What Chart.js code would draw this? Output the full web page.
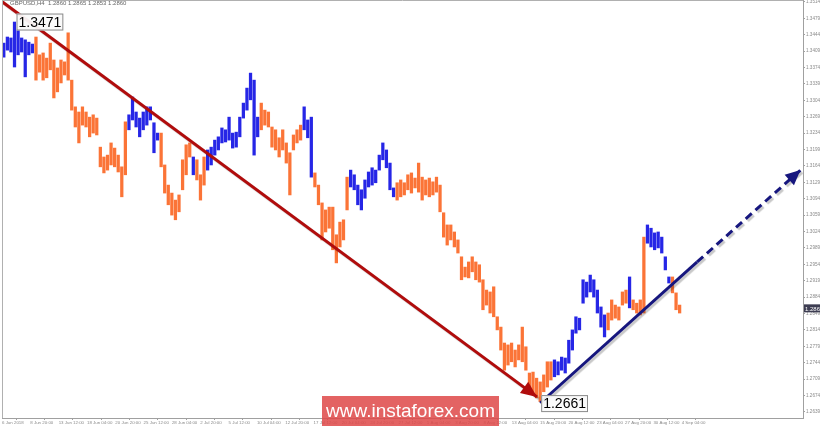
<!DOCTYPE html>
<html lang="en">
<head>
<meta charset="UTF-8">
<title>GBPUSD H4</title>
<script src="https://cdn.jsdelivr.net/npm/chart.js"></script>
<style>
  html, body { margin: 0; padding: 0; background: #fff; }
  .wrap { position: relative; width: 820px; height: 426px; overflow: hidden; }
  #priceChart { display: block; }
  .header { position: absolute; left: 10px; top: 0px; font: 6px "Liberation Sans", Arial, sans-serif; color: #666; white-space: pre; }
  .brand { position: absolute; left: 322px; top: 396px; width: 177px; height: 30px; background: rgba(222, 72, 72, 0.85);
           color: #fff; font: 19px "Liberation Sans", Arial, sans-serif; line-height: 30px; text-align: center; }
</style>
</head>
<body>
<div class="wrap">
  <canvas id="priceChart" width="820" height="426"></canvas>
  <div class="header">GBPUSD,H4  1.2860 1.2865 1.2853 1.2860</div>
  <div class="brand">www.instaforex.com</div>
</div>
<script>
// GBPUSD H4, one bar = two H4 candles (high / low)
const highs = [
  1.3426, 1.3439, 1.3437, 1.3471, 1.3454, 1.3437, 1.3433, 1.3428, 1.3424, 1.3439,
  1.3401, 1.3405, 1.3394, 1.3426, 1.3390, 1.3373, 1.3390, 1.3386, 1.3448, 1.3347,
  1.3290, 1.3279, 1.3290, 1.3279, 1.3268, 1.3273, 1.3266, 1.3204, 1.3183, 1.3187,
  1.3213, 1.3202, 1.3187, 1.3162, 1.3258, 1.3273, 1.3311, 1.3279, 1.3266, 1.3279,
  1.3290, 1.3290, 1.3256, 1.3234, 1.3234, 1.3166, 1.3123, 1.3106, 1.3091, 1.3102,
  1.3177, 1.3209, 1.3213, 1.3183, 1.3177, 1.3145, 1.3183, 1.3198, 1.3204, 1.3219,
  1.3226, 1.3245, 1.3241, 1.3268, 1.3234, 1.3236, 1.3268, 1.3298, 1.3330, 1.3362,
  1.3347, 1.3268, 1.3298, 1.3283, 1.3279, 1.3247, 1.3241, 1.3224, 1.3241, 1.3213,
  1.3192, 1.3230, 1.3241, 1.3251, 1.3290, 1.3262, 1.3268, 1.3149, 1.3123, 1.3085,
  1.3070, 1.3076, 1.3076, 1.3017, 1.3044, 1.3049, 1.3140, 1.3155, 1.3145, 1.3123,
  1.3113, 1.3134, 1.3151, 1.3160, 1.3155, 1.3187, 1.3213, 1.3198, 1.3170, 1.3117,
  1.3128, 1.3134, 1.3128, 1.3145, 1.3149, 1.3138, 1.3170, 1.3140, 1.3134, 1.3138,
  1.3130, 1.3140, 1.3123, 1.3064, 1.3038, 1.3038, 1.3023, 1.3006, 1.2970, 1.2948,
  1.2959, 1.2970, 1.2959, 1.2953, 1.2921, 1.2899, 1.2895, 1.2906, 1.2842, 1.2820,
  1.2786, 1.2782, 1.2786, 1.2771, 1.2782, 1.2820, 1.2778, 1.2722, 1.2724, 1.2711,
  1.2703, 1.2718, 1.2746, 1.2746, 1.2750, 1.2746, 1.2756, 1.2754, 1.2792, 1.2814,
  1.2842, 1.2839, 1.2921, 1.2916, 1.2931, 1.2921, 1.2899, 1.2863, 1.2846, 1.2850,
  1.2878, 1.2867, 1.2863, 1.2895, 1.2899, 1.2927, 1.2878, 1.2871, 1.2878, 1.3012,
  1.3038, 1.3031, 1.3021, 1.3023, 1.3012, 1.2970, 1.2927, 1.2927, 1.2893, 1.2867
];
const lows = [
  1.3396, 1.3411, 1.3407, 1.3375, 1.3401, 1.3407, 1.3354, 1.3401, 1.3405, 1.3347,
  1.3364, 1.3347, 1.3352, 1.3369, 1.3309, 1.3322, 1.3341, 1.3358, 1.3347, 1.3283,
  1.3247, 1.3213, 1.3251, 1.3247, 1.3226, 1.3234, 1.3230, 1.3162, 1.3149, 1.3155,
  1.3166, 1.3162, 1.3151, 1.3098, 1.3145, 1.3241, 1.3262, 1.3247, 1.3226, 1.3241,
  1.3251, 1.3262, 1.3192, 1.3219, 1.3162, 1.3106, 1.3081, 1.3059, 1.3049, 1.3066,
  1.3113, 1.3145, 1.3183, 1.3145, 1.3134, 1.3091, 1.3123, 1.3155, 1.3166, 1.3187,
  1.3198, 1.3213, 1.3215, 1.3219, 1.3202, 1.3204, 1.3226, 1.3266, 1.3283, 1.3305,
  1.3187, 1.3226, 1.3241, 1.3251, 1.3247, 1.3204, 1.3198, 1.3183, 1.3198, 1.3170,
  1.3102, 1.3198, 1.3213, 1.3219, 1.3241, 1.3224, 1.3140, 1.3119, 1.3081, 1.3006,
  1.3023, 1.3031, 1.2985, 1.2957, 1.2991, 1.3006, 1.3070, 1.3119, 1.3113, 1.3081,
  1.3070, 1.3095, 1.3119, 1.3123, 1.3128, 1.3155, 1.3177, 1.3160, 1.3113, 1.3098,
  1.3091, 1.3098, 1.3102, 1.3113, 1.3106, 1.3117, 1.3108, 1.3091, 1.3102, 1.3098,
  1.3102, 1.3108, 1.3066, 1.3012, 1.2995, 1.3006, 1.2991, 1.2978, 1.2921, 1.2927,
  1.2925, 1.2938, 1.2921, 1.2916, 1.2857, 1.2867, 1.2850, 1.2842, 1.2814, 1.2771,
  1.2728, 1.2739, 1.2746, 1.2735, 1.2750, 1.2746, 1.2728, 1.2692, 1.2679, 1.2669,
  1.2661, 1.2682, 1.2692, 1.2707, 1.2714, 1.2718, 1.2728, 1.2722, 1.2743, 1.2771,
  1.2807, 1.2814, 1.2871, 1.2884, 1.2895, 1.2884, 1.2850, 1.2820, 1.2799, 1.2814,
  1.2835, 1.2839, 1.2835, 1.2867, 1.2871, 1.2861, 1.2857, 1.2850, 1.2846, 1.2850,
  1.2999, 1.2991, 1.2985, 1.2989, 1.2978, 1.2942, 1.2914, 1.2893, 1.2857, 1.2850
];
// wave direction runs: [direction, number of bars]
const waveRuns = [
  ['u', 9], ['d', 26], ['u', 9], ['d', 9], ['u', 1], ['d', 3], ['u', 15], ['d', 12], ['u', 3],
  ['d', 10], ['u', 13], ['d', 44], ['u', 15], ['d', 6], ['u', 1], ['d', 4], ['u', 7], ['d', 3]
];
const lastPrice = 1.2860;

const dateLabels = [
  '6 Jun 2018', '8 Jun 20:00', '13 Jun 12:00', '18 Jun 04:00', '20 Jun 20:00', '25 Jun 12:00',
  '28 Jun 04:00', '2 Jul 20:00', '5 Jul 12:00', '10 Jul 04:00', '12 Jul 20:00', '17 Jul 12:00',
  '20 Jul 04:00', '24 Jul 20:00', '27 Jul 12:00', '1 Aug 04:00', '3 Aug 20:00', '8 Aug 12:00',
  '13 Aug 04:00', '15 Aug 20:00', '20 Aug 12:00', '23 Aug 04:00', '27 Aug 20:00', '30 Aug 12:00',
  '4 Sep 04:00'
];
const priceTicks = [
  1.2639, 1.2674, 1.2709, 1.2744, 1.2779, 1.2814, 1.2849, 1.2884, 1.2919, 1.2954, 1.2989, 1.3024, 1.3059,
  1.3094, 1.3129, 1.3164, 1.3199, 1.3234, 1.3269, 1.3304, 1.3339, 1.3374, 1.3409, 1.3444, 1.3479, 1.3514
];

// wave lines (bar index, price)
const downTrendX = [-0.6, 149.6];
const downTrendY = [1.3518, 1.2671];
const upTrendX = [150.5, 194.4];
const upTrendY = [1.2658, 1.2959];
const forecastX = [194.4, 223.3];
const forecastY = [1.2959, 1.3155];

const BAR_SLOTS = 224;       // visible bar slots on the time axis
const LABEL_EVERY = 7.92;    // date label every 16 H4 candles

const ORANGE = '#fb7437';
const BLUE = '#2626e6';
const RED = '#b00c0c';
const NAVY = '#16167e';

const dirs = [];
waveRuns.forEach(([d, n]) => { for (let k = 0; k < n; k++) dirs.push(d); });

const pts = (xs, ys) => xs.map((x, i) => ({ x: x, y: ys[i] }));

// keep the plot flush with the canvas edges
const noPad = s => { s.paddingTop = 0; s.paddingBottom = 0; s.paddingLeft = 0; s.paddingRight = 0; };

function arrowHead(ctx, p0, p1, color, len, half) {
  const ang = Math.atan2(p1.y - p0.y, p1.x - p0.x);
  ctx.save();
  ctx.translate(p1.x, p1.y);
  ctx.rotate(ang);
  ctx.fillStyle = color;
  ctx.beginPath();
  ctx.moveTo(0, 0);
  ctx.lineTo(-len, -half);
  ctx.lineTo(-len, half);
  ctx.closePath();
  ctx.fill();
  ctx.restore();
}

function priceBox(ctx, text, left, cy) {
  ctx.save();
  ctx.font = '14px "Liberation Sans", Arial, sans-serif';
  const w = ctx.measureText(text).width + 4;
  ctx.fillStyle = 'rgba(250,250,250,0.95)';
  ctx.fillRect(left, cy - 8.5, w, 17);
  ctx.strokeStyle = '#8a8a8a';
  ctx.lineWidth = 1;
  ctx.strokeRect(left + 0.5, cy - 8, w - 1, 16);
  ctx.fillStyle = '#000';
  ctx.textBaseline = 'middle';
  ctx.fillText(text, left + 2, cy + 1);
  ctx.restore();
}

const overlay = {
  id: 'overlay',
  beforeDatasetDraw(chart, args) {
    if (args.meta.type === 'line') {
      const ctx = chart.ctx;
      ctx.save();
      ctx.shadowColor = 'rgba(0,0,0,0.22)';
      ctx.shadowOffsetX = 2;
      ctx.shadowOffsetY = 2;
      ctx.shadowBlur = 1;
    }
  },
  afterDatasetDraw(chart, args) {
    if (args.meta.type === 'line') chart.ctx.restore();
  },
  afterDatasetsDraw(chart) {
    const ctx = chart.ctx;
    const a = chart.chartArea;
    const { x, y } = chart.scales;

    // frame
    ctx.save();
    ctx.strokeStyle = '#b0b0b0';
    ctx.lineWidth = 1;
    ctx.beginPath();
    ctx.moveTo(a.left + 0.5, a.top);
    ctx.lineTo(a.left + 0.5, a.bottom);
    ctx.moveTo(a.left, a.top + 0.5);
    ctx.lineTo(a.right, a.top + 0.5);
    ctx.stroke();
    ctx.restore();

    // arrowheads on the wave lines
    const red = chart.getDatasetMeta(1).data;
    arrowHead(ctx, red[0], red[red.length - 1], RED, 16, 7);
    const fc = chart.getDatasetMeta(3).data;
    arrowHead(ctx, fc[0], fc[fc.length - 1], NAVY, 15, 7);

    // extreme labels
    const hi = Math.max(...highs), lo = Math.min(...lows);
    const hiIdx = highs.indexOf(hi), loIdx = lows.indexOf(lo);
    priceBox(ctx, hi.toFixed(4), x.getPixelForValue(hiIdx + 0.5) + 2, y.getPixelForValue(hi));
    priceBox(ctx, lo.toFixed(4), x.getPixelForValue(loIdx + 0.5) + 1, y.getPixelForValue(lo) + 2);

    // last price tag
    const py = y.getPixelForValue(lastPrice);
    ctx.save();
    ctx.fillStyle = '#3d3d52';
    ctx.fillRect(a.right + 1, py - 4, 17, 8);
    ctx.fillStyle = '#fff';
    ctx.font = '6px "Liberation Sans", Arial, sans-serif';
    ctx.textBaseline = 'middle';
    ctx.fillText(lastPrice.toFixed(4), a.right + 2, py + 0.5);
    ctx.restore();
  }
};

const ctx = document.getElementById('priceChart').getContext('2d');
new Chart(ctx, {
  type: 'bar',
  data: {
    datasets: [
      {
        type: 'bar',
        data: highs.map((h, i) => ({ x: i + 0.5, y: [lows[i], h] })),
        backgroundColor: dirs.map(d => d === 'u' ? BLUE : ORANGE),
        barThickness: 2.6,
        order: 2
      },
      {
        type: 'line',
        data: pts(downTrendX, downTrendY),
        borderColor: RED, borderWidth: 3, pointRadius: 0, order: 0
      },
      {
        type: 'line',
        data: pts(upTrendX, upTrendY),
        borderColor: NAVY, borderWidth: 3, pointRadius: 0, order: 0
      },
      {
        type: 'line',
        data: pts(forecastX, forecastY),
        borderColor: NAVY, borderWidth: 3, borderDash: [8, 5], pointRadius: 0, order: 0
      }
    ]
  },
  options: {
    responsive: false,
    animation: false,
    layout: { padding: { left: 2, top: 0, right: 0, bottom: 0 } },
    plugins: { legend: { display: false }, tooltip: { enabled: false } },
    scales: {
      x: {
        type: 'linear',
        min: 0,
        max: BAR_SLOTS,
        offset: false,
        afterBuildTicks: s => { s.ticks = dateLabels.map((_, k) => ({ value: k * LABEL_EVERY })); },
        afterFit: s => { s.height = 8; noPad(s); },
        grid: { drawOnChartArea: false, tickLength: 2, color: '#a0a0a0' },
        border: { color: '#a0a0a0' },
        ticks: {
          autoSkip: false, maxRotation: 0, minRotation: 0, align: 'start', padding: 0,
          color: '#8a8a8a', font: { size: 4.4, family: 'Liberation Sans' },
          callback: (v, i) => dateLabels[i]
        }
      },
      y: {
        position: 'right',
        min: 1.2626,
        max: 1.3518,
        afterBuildTicks: s => { s.ticks = priceTicks.map(v => ({ value: v })); },
        afterFit: s => { s.width = 17; noPad(s); },
        grid: { drawOnChartArea: false, tickLength: 2, color: '#a0a0a0' },
        border: { color: '#a0a0a0' },
        ticks: {
          padding: 1, color: '#8a8a8a', font: { size: 4.6, family: 'Liberation Sans' },
          callback: v => v.toFixed(4)
        }
      }
    }
  },
  plugins: [overlay]
});
</script>
</body>
</html>
